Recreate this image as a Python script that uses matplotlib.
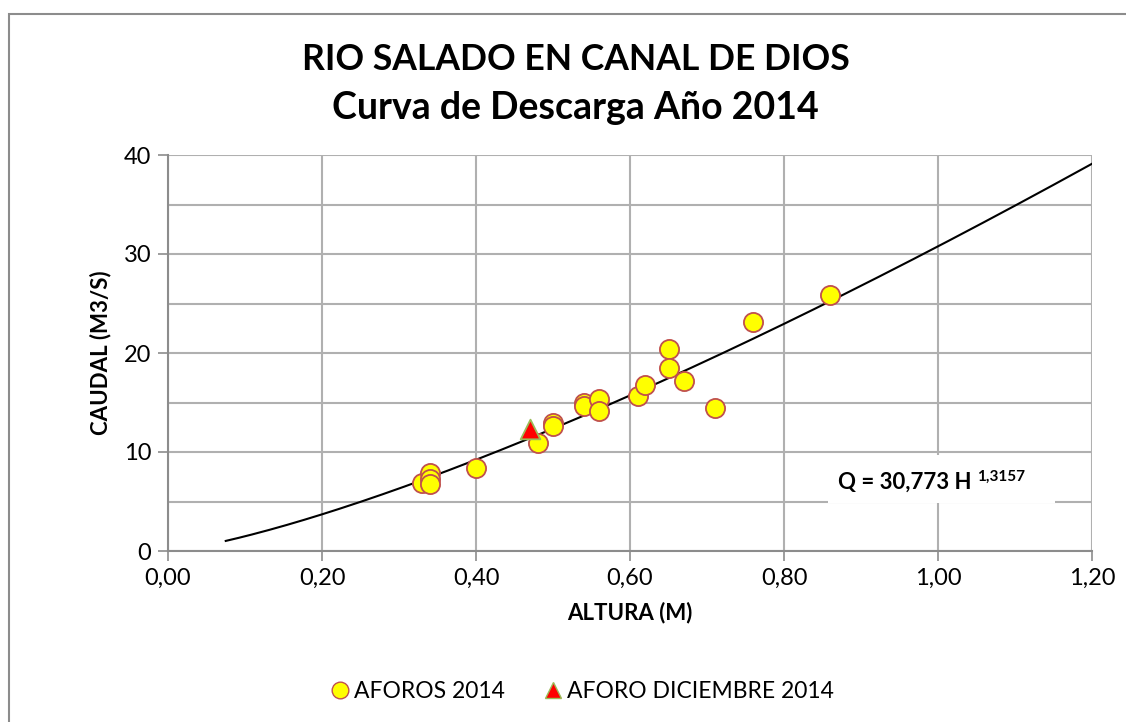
import numpy as np
import matplotlib
matplotlib.use('Agg')
import matplotlib.pyplot as plt
from matplotlib.patches import Rectangle
from matplotlib.lines import Line2D

plt.rcParams['font.family'] = ['Lato', 'DejaVu Sans']

# Aforos 2014 (altura en m, caudal en m3/s)
altura_2014 = [0.33, 0.34, 0.34, 0.34, 0.40, 0.48, 0.50, 0.50, 0.54, 0.54,
               0.56, 0.56, 0.61, 0.62, 0.65, 0.65, 0.67, 0.71, 0.76, 0.86]
caudal_2014 = [6.9, 7.9, 7.3, 6.8, 8.4, 10.9, 12.9, 12.6, 15.0, 14.6,
               15.4, 14.1, 15.7, 16.8, 20.4, 18.5, 17.2, 14.4, 23.1, 25.9]

# Aforo diciembre 2014
altura_dic = [0.47]
caudal_dic = [12.3]

# Curva de descarga Q = a * H^b
coef_a = 30.773
coef_b = 1.3157
h_min, h_max = 0.075, 1.20

x_ticks = [0.0, 0.2, 0.4, 0.6, 0.8, 1.0, 1.2]
x_labels = ['0,00', '0,20', '0,40', '0,60', '0,80', '1,00', '1,20']
y_ticks = [0, 10, 20, 30, 40]

fig = plt.figure(figsize=(11.26, 7.22), dpi=100)
ax = fig.add_axes([168 / 1126, 1 - 551 / 722, 924 / 1126, 396 / 722])

# marco exterior del grafico
fig.patches.append(Rectangle((9 / 1126, -0.1), 1.2, 1 - 14 / 722 + 0.1,
                             transform=fig.transFigure, fill=False,
                             edgecolor='#8c8c8c', linewidth=1.5))

h = np.linspace(h_min, h_max, 200)
ax.plot(h, coef_a * h ** coef_b, color='black', linewidth=1.5, zorder=3)

ax.scatter(altura_2014, caudal_2014, s=190, facecolor='#FFFF00',
           edgecolor='#C0504D', linewidth=1.3, zorder=4)
ax.scatter(altura_dic, caudal_dic, s=200, marker='^', facecolor='#FF0000',
           edgecolor='#9BBB59', linewidth=1.3, zorder=5)

ax.set_xlim(0, 1.2)
ax.set_ylim(0, 40)
ax.set_xticks(x_ticks)
ax.set_xticklabels(x_labels)
ax.set_yticks(y_ticks)
ax.set_yticks(np.arange(5, 40, 10), minor=True)
ax.tick_params(which='minor', length=0)
ax.tick_params(which='major', direction='out', length=7, color='#8c8c8c',
               width=1.2, labelsize=17, pad=5)
ax.grid(which='both', color='#b0b0b0', linewidth=1.5)
ax.set_axisbelow(True)
for s in ['top', 'right']:
    ax.spines[s].set_visible(False)
for s in ['left', 'bottom']:
    ax.spines[s].set_color('#8c8c8c')
    ax.spines[s].set_linewidth(1.5)

ax.set_xlabel('ALTURA (M)', fontsize=16, fontweight='bold', labelpad=9)
ax.set_ylabel('CAUDAL (M3/S)', fontsize=16, fontweight='bold', labelpad=9)

fig.text(0.511, 1 - 60 / 722, 'RIO SALADO EN CANAL DE DIOS', ha='center',
         va='center', fontsize=25.6, fontweight='bold')
fig.text(0.511, 1 - 108 / 722, 'Curva de Descarga Año 2014', ha='center',
         va='center', fontsize=27, fontweight='bold')

# etiqueta de la ecuacion con fondo blanco
ax.add_patch(Rectangle((0.857, 4.8), 0.295, 4.9, facecolor='white',
                       edgecolor='none', zorder=5))
eq = ax.text(0.870, 6.9, 'Q = 30,773 H ', fontsize=16, fontweight='bold',
             va='center', ha='left', zorder=6)
sup = ax.annotate('1,3157', xy=(1.0, 0.8), xycoords=eq, fontsize=11,
                  fontweight='bold', va='center', ha='left',
                  annotation_clip=False)
sup.set_zorder(7)

handles = [
    Line2D([], [], marker='o', linestyle='none', markersize=12,
           markerfacecolor='#FFFF00', markeredgecolor='#C0504D', label='AFOROS 2014'),
    Line2D([], [], marker='^', linestyle='none', markersize=12,
           markerfacecolor='#FF0000', markeredgecolor='#9BBB59', label='AFORO DICIEMBRE 2014'),
]
fig.legend(handles=handles, loc='center', bbox_to_anchor=(0.515, 1 - 692 / 722),
           ncol=2, frameon=False, fontsize=16.5, handletextpad=0.0,
           handlelength=1.2, columnspacing=1.5)

fig.savefig('out.png', dpi=100)
